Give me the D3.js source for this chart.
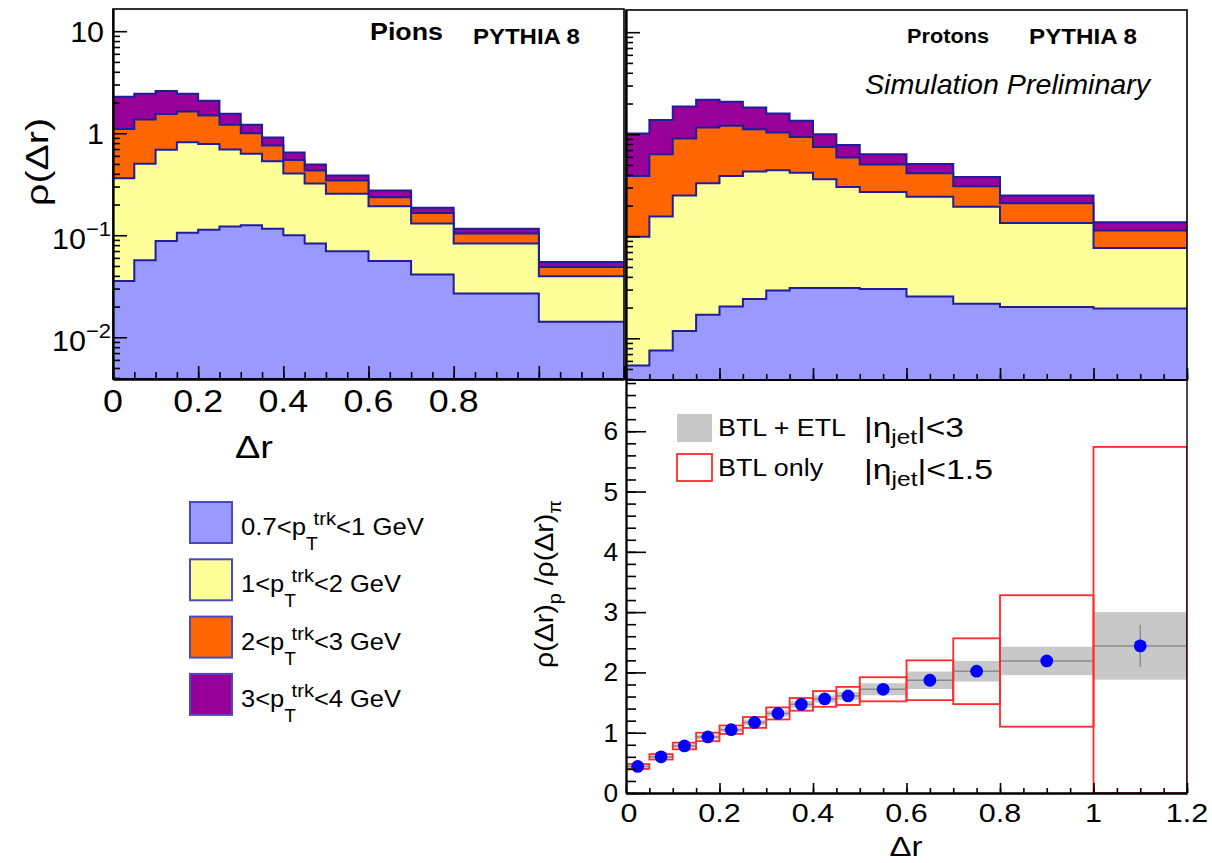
<!DOCTYPE html>
<html><head><meta charset="utf-8">
<script src="https://cdn.jsdelivr.net/npm/d3@7"></script>
<style>
body{margin:0;background:#fff;}
text{font-family:"Liberation Sans",Arial,Helvetica,sans-serif;fill:#000;}
</style>
</head><body>
<svg id="c" width="1212" height="863"></svg>
<script>
// ---------------- DATA ----------------
const binEdges = [0,0.05,0.1,0.15,0.2,0.25,0.3,0.35,0.4,0.45,0.5,0.6,0.7,0.8,1.0,1.2];
const layerKeys = ["low","mid","high","top"];
const layerPre = ["0.7<p","1<p","2<p","3<p"];
const layerPost = ["<1 GeV","<2 GeV","<3 GeV","<4 GeV"];
const layerColors = ["#9999ff","#ffff99","#ff6600","#990099"];

// Pions: per-layer rho(dr) contributions
const pionLow  = [0.0357,0.0569,0.0878,0.106,0.1135,0.122,0.125,0.116,0.0998,0.0828,0.0696,0.056,0.0412,0.0269,0.0142];
const pionMid  = [0.326,0.444,0.599,0.709,0.672,0.569,0.503,0.415,0.303,0.238,0.185,0.136,0.089,0.0559,0.0255];
const pionHigh = [0.738,0.859,0.853,0.815,0.705,0.519,0.372,0.226,0.145,0.110,0.089,0.044,0.035,0.0212,0.0092];
const pionTop  = [1.18,1.08,1.05,0.81,0.59,0.34,0.21,0.149,0.098,0.062,0.041,0.039,0.021,0.012,0.0058];

// Protons
const protonLow  = [0.0054,0.00757,0.0118,0.0170,0.0205,0.0242,0.0294,0.0311,0.0311,0.0311,0.0304,0.0257,0.0218,0.0202,0.0196];
const protonMid  = [0.0932,0.149,0.239,0.313,0.369,0.406,0.414,0.389,0.330,0.272,0.241,0.218,0.173,0.115,0.0573];
const protonHigh = [0.290,0.479,0.656,0.834,0.818,0.690,0.596,0.521,0.389,0.287,0.233,0.170,0.115,0.0755,0.0371];
const protonTop  = [0.627,0.746,0.966,1.011,0.871,0.710,0.559,0.411,0.250,0.195,0.132,0.097,0.070,0.040,0.023];

// Ratio p / pi
const ratioValues = [0.44,0.60,0.78,0.93,1.05,1.17,1.32,1.47,1.56,1.61,1.72,1.87,2.02,2.19,2.44];
const ratioErrAll = [0.02,0.025,0.03,0.035,0.04,0.045,0.05,0.055,0.06,0.065,0.10,0.145,0.17,0.235,0.56];
const ratioErrBTL = [0.04,0.045,0.055,0.07,0.07,0.09,0.10,0.105,0.13,0.15,0.20,0.33,0.545,1.09,3.30];
const ratioStatErr = [0.01,0.01,0.01,0.01,0.01,0.01,0.01,0.01,0.01,0.015,0.02,0.03,0.05,0.08,0.35];

const topXTicks = [0,0.2,0.4,0.6,0.8];
const ratioXTicks = [0,0.2,0.4,0.6,0.8,1,1.2];
const ratioYTicks = [0,1,2,3,4,5,6];
const logMajor = [0.01,0.1,1,10];
const logLabels = [["10","\u22122"],["10","\u22121"],["1",null],["10",null]];

// ---------------- HELPERS ----------------
const svg = d3.select("#c");
svg.append("rect").attr("width",1212).attr("height",863).attr("fill","#fff");
const defs = svg.append("defs");
const OUT = "#1e1e9c";

function addText(o){
  const t = svg.append("text").attr("font-size",o.size).attr("text-anchor",o.anchor||"start");
  if(o.weight) t.attr("font-weight",o.weight);
  if(o.style) t.attr("font-style",o.style);
  t.datum(o);
  if(o.text!=null) t.text(o.text);
  return t;
}
function fit(t){
  const o = t.datum();
  let k = o.sx || 1;
  if(o.w){ const L = t.node().getBBox().width; if(L>0) k = (o.w+2)/L; }
  t.attr("transform",`translate(${o.x},${o.y})${o.rot?` rotate(${o.rot})`:""} scale(${k},1)`);
  return t;
}

const yDomain = [0.0039,16.5];
const xL = d3.scaleLinear().domain([0,1.2]).range([113,624]);
const yL = d3.scaleLog().domain(yDomain).range([379,9]);
const xR = d3.scaleLinear().domain([0,1.2]).range([626,1187]);
const yR = d3.scaleLog().domain(yDomain).range([380,10]);

const logMinor = [];
[0.001,0.01,0.1,1].forEach(d=>{for(let m=2;m<=9;m++){const v=d*m; if(v>yDomain[0]&&v<yDomain[1]) logMinor.push(v);}});
const xMinor = d3.range(0,1.2001,0.05).map(v=>+v.toFixed(2));

function drawStack(id, x, y, arrays){
  const bins = d3.range(15).map(i=>({x0:binEdges[i],x1:binEdges[i+1],low:arrays[0][i],mid:arrays[1][i],high:arrays[2][i],top:arrays[3][i]}));
  const series = d3.stack().keys(layerKeys)(bins);
  const [x0,x1] = x.range(), [yb,yt] = y.range();
  defs.append("clipPath").attr("id",id).append("rect").attr("x",x0).attr("y",yt).attr("width",x1-x0).attr("height",yb-yt);
  const g = svg.append("g").attr("clip-path",`url(#${id})`);
  const area = d3.area().x(p=>x(p[0])).y0(yb).y1(p=>y(p[1])).curve(d3.curveStepAfter);
  const line = d3.line().x(p=>x(p[0])).y(p=>y(p[1])).curve(d3.curveStepAfter);
  for(let k=3;k>=0;k--){
    const pts = bins.map((b,i)=>[b.x0, series[k][i][1]]);
    pts.push([1.2, series[k][14][1]]);
    g.append("path").attr("d",area(pts)).attr("fill",layerColors[k]);
    g.append("path").attr("d",line(pts)).attr("fill","none").attr("stroke",OUT).attr("stroke-width",2);
  }
}

function frame(x,y){
  const [x0,x1]=x.range(), [yb,yt]=y.range();
  svg.append("rect").attr("x",x0).attr("y",yt).attr("width",x1-x0).attr("height",yb-yt)
    .attr("fill","none").attr("stroke","#000").attr("stroke-width",1.6);
}

function logAxis(x,y,labels){
  const x0 = x.range()[0];
  const g = svg.append("g").attr("transform",`translate(${x0},0)`);
  g.append("g").call(d3.axisLeft(y).tickValues(logMinor).tickSize(-7).tickSizeOuter(0).tickFormat(""));
  g.append("g").call(d3.axisLeft(y).tickValues(logMajor).tickSize(-14).tickSizeOuter(0).tickFormat(""));
  g.selectAll("line").attr("stroke","#000").attr("stroke-width",1.6);
  g.selectAll(".domain").attr("stroke","#000").attr("stroke-width",1.8);
  if(labels){
    logMajor.forEach((v,i)=>{
      const [base,exp]=logLabels[i];
      const t = addText({x: exp? x0-2 : x0-9, y: y(v)+(exp?14:10.5), size:29, anchor:"end", sx:1.05});
      t.append("tspan").text(base);
      if(exp) t.append("tspan").attr("dy",-13).attr("font-size",21).text(exp);
      fit(t);
    });
  }
}

function linXAxis(x,y,major,minor,majLen,minLen,labels,fs,off,sx,zeroDx){
  const yb = y.range()[0];
  const g = svg.append("g").attr("transform",`translate(0,${yb})`);
  g.append("g").call(d3.axisBottom(x).tickValues(minor).tickSize(-minLen).tickSizeOuter(0).tickFormat(""));
  g.append("g").call(d3.axisBottom(x).tickValues(major).tickSize(-majLen).tickSizeOuter(0).tickFormat(""));
  g.selectAll("line").attr("stroke","#000").attr("stroke-width",1.6);
  g.selectAll(".domain").attr("stroke","#000").attr("stroke-width",1.8);
  if(labels){
    labels.forEach(v=>{
      fit(addText({x:x(v)+((v===0&&zeroDx)?zeroDx:0), y:yb+off, size:fs, anchor:"middle", sx:sx, text:d3.format("~g")(v)}));
    });
  }
}

// ---------------- TOP-LEFT: PIONS ----------------
drawStack("clipL", xL, yL, [pionLow,pionMid,pionHigh,pionTop]);
frame(xL,yL);
logAxis(xL,yL,true);
linXAxis(xL,yL,[0,0.2,0.4,0.6,0.8,1.0,1.2],xMinor,13,7,topXTicks,32,33,1.12);

// ---------------- TOP-RIGHT: PROTONS ----------------
drawStack("clipR", xR, yR, [protonLow,protonMid,protonHigh,protonTop]);
frame(xR,yR);
logAxis(xR,yR,false);
linXAxis(xR,yR,[0,0.2,0.4,0.6,0.8,1.0,1.2],xMinor,12,6,null);

// titles / annotations
fit(addText({x:370,y:40,size:23.5,weight:"bold",text:"Pions",w:71}));
fit(addText({x:473,y:44,size:22.5,weight:"bold",text:"PYTHIA 8",w:105}));
fit(addText({x:907,y:43,size:20.5,weight:"bold",text:"Protons",w:80}));
fit(addText({x:1029,y:44,size:22.5,weight:"bold",text:"PYTHIA 8",w:106}));
fit(addText({x:865,y:94,size:28.5,style:"italic",text:"Simulation Preliminary",w:285}));

fit(addText({x:48,y:162,rot:-90,size:32,anchor:"middle",text:"\u03c1(\u0394r)",w:86}));
fit(addText({x:254,y:458,size:31,anchor:"middle",text:"\u0394r",w:36}));

// legend pT bins
const legTargets = [181,158,158,158];
layerColors.forEach((c,i)=>{
  const y0 = 502 + i*57.3;
  svg.append("rect").attr("x",190).attr("y",y0).attr("width",42).attr("height",41)
    .attr("fill",c).attr("stroke","#4a4ac0").attr("stroke-width",2);
  const t = addText({x:241,y:y0+33,size:24,w:legTargets[i]});
  t.append("tspan").text(layerPre[i]);
  t.append("tspan").attr("dy",15).attr("font-size",18).text("T");
  t.append("tspan").attr("dx",-4).attr("dy",-25).attr("font-size",19).text("trk");
  t.append("tspan").attr("dy",10).attr("font-size",24).text(layerPost[i]);
  fit(t);
});

// ---------------- RATIO PAD ----------------
svg.append("rect").attr("x",485).attr("y",381).attr("width",727).attr("height",482).attr("fill","#fff");
const yB = d3.scaleLinear().domain([0,6.85]).range([793,380]);
const xB = xR;
const rb = d3.range(15).map(i=>({x0:binEdges[i],x1:binEdges[i+1],xc:(binEdges[i]+binEdges[i+1])/2,v:ratioValues[i],ea:ratioErrAll[i],eb:ratioErrBTL[i],es:ratioStatErr[i]}));
defs.append("clipPath").attr("id","clipB").append("rect").attr("x",626).attr("y",380).attr("width",561).attr("height",413);
const gB = svg.append("g").attr("clip-path","url(#clipB)");
gB.selectAll(".band").data(rb).join("rect")
  .attr("x",d=>xB(d.x0)).attr("width",d=>xB(d.x1)-xB(d.x0))
  .attr("y",d=>yB(d.v+d.ea)).attr("height",d=>yB(d.v-d.ea)-yB(d.v+d.ea))
  .attr("fill","#c8c8c8");
gB.selectAll(".hl").data(rb).join("line")
  .attr("x1",d=>xB(d.x0)).attr("x2",d=>xB(d.x1)).attr("y1",d=>yB(d.v)).attr("y2",d=>yB(d.v))
  .attr("stroke","#8c8c8c").attr("stroke-width",1.5);
gB.selectAll(".vl").data(rb).join("line")
  .attr("x1",d=>xB(d.xc)).attr("x2",d=>xB(d.xc)).attr("y1",d=>yB(d.v-d.es)).attr("y2",d=>yB(d.v+d.es))
  .attr("stroke","#8c8c8c").attr("stroke-width",1.5);
gB.selectAll(".box").data(rb).join("rect")
  .attr("x",d=>xB(d.x0)).attr("width",d=>xB(d.x1)-xB(d.x0))
  .attr("y",d=>yB(d.v+d.eb)).attr("height",d=>yB(Math.max(0,d.v-d.eb))-yB(d.v+d.eb))
  .attr("fill","none").attr("stroke","#ff2a2a").attr("stroke-width",1.8);
gB.selectAll(".pt").data(rb).join("circle")
  .attr("cx",d=>xB(d.xc)).attr("cy",d=>yB(d.v)).attr("r",6.4).attr("fill","#0000ff");

// ratio frame & axes
svg.append("path").attr("d",`M626,380H1187V793`).attr("fill","none").attr("stroke","#000").attr("stroke-width",1.4);
const gy = svg.append("g").attr("transform","translate(626,0)");
gy.append("g").call(d3.axisLeft(yB).tickValues(d3.range(0,6.85,0.2)).tickSize(-10).tickSizeOuter(0).tickFormat(""));
gy.append("g").call(d3.axisLeft(yB).tickValues(ratioYTicks).tickSize(-20).tickSizeOuter(0).tickFormat(""));
gy.selectAll("line").attr("stroke","#000").attr("stroke-width",1.6);
gy.selectAll(".domain").attr("stroke","#000").attr("stroke-width",1.8);
ratioYTicks.forEach(v=>{
  fit(addText({x:618,y:yB(v)+9,size:25,anchor:"end",sx:1.05,text:String(v)}));
});
linXAxis(xB,yB,ratioXTicks,xMinor,10,5,ratioXTicks,26.5,29,1.15,3);

fit(addText({x:906,y:856,size:27,anchor:"middle",text:"\u0394r",w:31}));
const yt = addText({x:553,y:584,rot:-90,size:26,anchor:"middle",w:166});
yt.append("tspan").text("\u03c1(\u0394r)");
yt.append("tspan").attr("dy",8).attr("font-size",18).text("p");
yt.append("tspan").attr("dy",-8).text(" /\u03c1(\u0394r)");
yt.append("tspan").attr("dy",8).attr("font-size",18).text("\u03c0");
fit(yt);

// ratio legend
svg.append("rect").attr("x",677).attr("y",414).attr("width",35).attr("height",28).attr("fill","#c8c8c8");
svg.append("rect").attr("x",677).attr("y",454).attr("width",35).attr("height",27).attr("fill","none").attr("stroke","#ff2a2a").attr("stroke-width",1.8);
fit(addText({x:718,y:436,size:24.5,text:"BTL + ETL",w:126}));
fit(addText({x:718,y:476,size:24.5,text:"BTL only",w:104}));
[["<3",437,98],["<1.5",479,127]].forEach(([s,by,w])=>{
  const t = addText({x:864,y:by,size:27.5,w:w});
  t.append("tspan").text("|\u03b7");
  t.append("tspan").attr("dy",7).attr("font-size",20).text("jet");
  t.append("tspan").attr("dy",-7).text("|"+s);
  fit(t);
});
</script>
</body></html>
